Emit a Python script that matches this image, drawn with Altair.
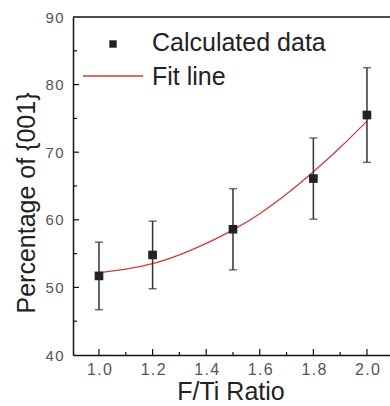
import altair as alt
import pandas as pd

# Data
ratio = [1.0, 1.2, 1.5, 1.8, 2.0]
pct = [51.7, 54.8, 58.6, 66.1, 75.5]
err = [5.0, 5.0, 6.0, 6.0, 7.0]

fit_x = [1.0, 1.1, 1.2, 1.3, 1.4, 1.5, 1.6, 1.7, 1.8, 1.9, 2.0]
fit_y = [52.2, 52.7, 53.5, 54.8, 56.5, 58.5, 60.9, 63.8, 67.1, 70.7, 74.6]

x_major = [1.0, 1.2, 1.4, 1.6, 1.8, 2.0]
x_minor = [1.1, 1.3, 1.5, 1.7, 1.9]
y_major = [50, 60, 70, 80]
y_minor = [45, 55, 65, 75, 85]
y_labels = [40, 50, 60, 70, 80, 90]

legend_labels = ["Calculated data", "Fit line"]
x_title = "F/Ti Ratio"
y_title = "Percentage of {001}"

W, H = 317, 338
FONT = "Liberation Sans"

xs = alt.Scale(domain=[0.903, 2.086], nice=False, zero=False)
ys = alt.Scale(domain=[40, 90], nice=False, zero=False)

pts = pd.DataFrame({"x": ratio, "y": pct, "lo": [p - e for p, e in zip(pct, err)],
                    "hi": [p + e for p, e in zip(pct, err)]})
fit = pd.DataFrame({"x": fit_x, "y": fit_y})

base_axes = alt.Chart(pd.DataFrame({"y": y_labels})).mark_point(opacity=0).encode(
    x=alt.X("xv:Q", scale=xs, axis=alt.Axis(
        values=x_major, format=".1f", title=None, ticks=False, grid=False,
        domainColor="#111", domainWidth=1.5, labelFont=FONT, labelFontSize=16,
        labelColor="#555", labelPadding=6,
        labelExpr="join(split(datum.label, ''), '\u200a')")),
    y=alt.Y("y:Q", scale=ys, axis=alt.Axis(
        values=y_labels, title=None, ticks=False, grid=False,
        domainColor="#111", domainWidth=1.5, labelFont=FONT, labelFontSize=15,
        labelColor="#555", labelPadding=10,
        labelExpr="join(split(datum.label, ''), '\u200a')")),
).transform_calculate(xv="1.5")

top_border = alt.Chart(pd.DataFrame({"a": [0]})).mark_rule(color="#111", strokeWidth=1.5).encode(
    x=alt.value(0), x2=alt.value(W), y=alt.value(0))

xmaj = alt.Chart(pd.DataFrame({"x": x_major})).mark_rule(color="#111", strokeWidth=1.2).encode(
    x=alt.X("x:Q", scale=xs), y=alt.value(H), y2=alt.value(H - 6))
xmin = alt.Chart(pd.DataFrame({"x": x_minor})).mark_rule(color="#111", strokeWidth=1.2).encode(
    x=alt.X("x:Q", scale=xs), y=alt.value(H), y2=alt.value(H - 3))
ymaj = alt.Chart(pd.DataFrame({"y": y_major})).mark_rule(color="#111", strokeWidth=1.2).encode(
    y=alt.Y("y:Q", scale=ys), x=alt.value(0), x2=alt.value(6))
ymin = alt.Chart(pd.DataFrame({"y": y_minor})).mark_rule(color="#111", strokeWidth=1.2).encode(
    y=alt.Y("y:Q", scale=ys), x=alt.value(0), x2=alt.value(4))

fit_line = alt.Chart(fit).mark_line(color="#d03a3a", strokeWidth=1.3, interpolate="monotone").encode(
    x=alt.X("x:Q", scale=xs), y=alt.Y("y:Q", scale=ys))

bars = alt.Chart(pts).mark_rule(color="#333", strokeWidth=1.5).encode(
    x=alt.X("x:Q", scale=xs), y=alt.Y("lo:Q", scale=ys), y2="hi:Q")
cap_hi = alt.Chart(pts).mark_tick(orient="horizontal", color="#333", size=8, thickness=1.5).encode(
    x=alt.X("x:Q", scale=xs), y=alt.Y("hi:Q", scale=ys))
cap_lo = alt.Chart(pts).mark_tick(orient="horizontal", color="#333", size=8, thickness=1.5).encode(
    x=alt.X("x:Q", scale=xs), y=alt.Y("lo:Q", scale=ys))
squares = alt.Chart(pts).mark_square(color="#222", size=75, opacity=1, filled=True).encode(
    x=alt.X("x:Q", scale=xs), y=alt.Y("y:Q", scale=ys))

# Legend
leg_sq = alt.Chart(pd.DataFrame({"a": [0]})).mark_square(color="#222", size=55, opacity=1).encode(
    x=alt.value(40), y=alt.value(27))
leg_line = alt.Chart(pd.DataFrame({"a": [0]})).mark_rule(color="#d03a3a", strokeWidth=1.3).encode(
    x=alt.value(10), x2=alt.value(70), y=alt.value(59))
leg_text = alt.Chart(pd.DataFrame({"t": legend_labels, "yy": [26, 60]})).mark_text(
    font=FONT, fontSize=25, color="#222", align="left", baseline="middle").encode(
    x=alt.value(79), y=alt.Y("yy:Q", scale=None), text="t:N")

xt = alt.Chart(pd.DataFrame({"t": [x_title]})).mark_text(
    font=FONT, fontSize=25, color="#222", align="center", baseline="middle").encode(
    x=alt.value(158), y=alt.value(375), text="t:N")
yt = alt.Chart(pd.DataFrame({"t": [y_title]})).mark_text(
    font=FONT, fontSize=25, color="#222", align="center", baseline="middle", angle=270).encode(
    x=alt.value(-46), y=alt.value(186), text="t:N")

chart = alt.layer(
    base_axes, top_border, xmaj, xmin, ymaj, ymin, fit_line, bars, cap_hi, cap_lo, squares,
    leg_sq, leg_line, leg_text, xt, yt
).properties(
    width=W, height=H,
    autosize=alt.AutoSizeParams(type="none"),
    padding={"left": 73, "top": 17, "right": 0, "bottom": 51},
    background="white",
).configure_view(stroke=None)

chart.save("out.html", embed_options={"renderer": "svg", "actions": False})
